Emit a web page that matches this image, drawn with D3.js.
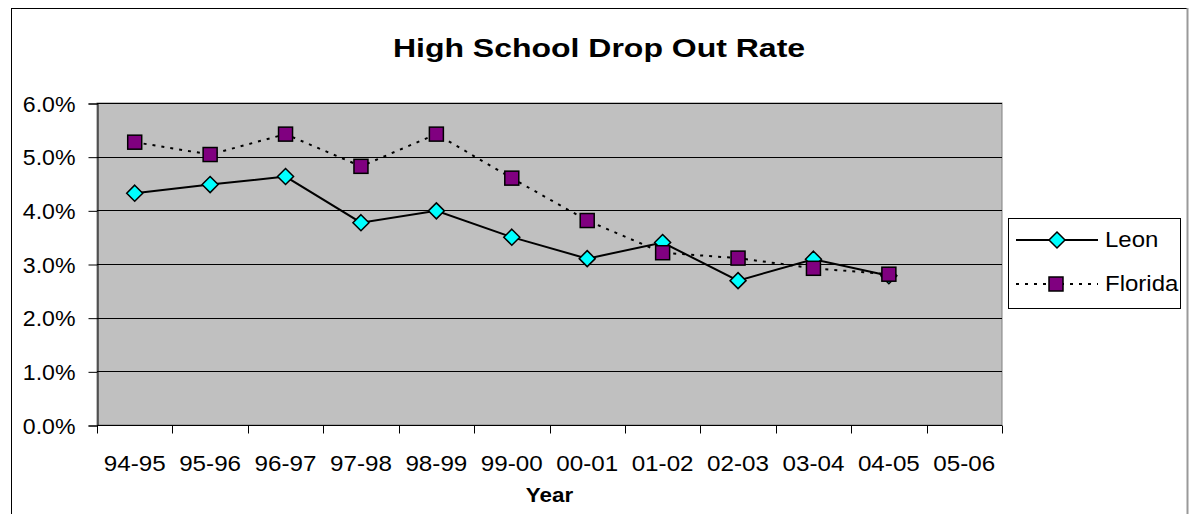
<!DOCTYPE html>
<html>
<head>
<meta charset="utf-8">
<script src="https://cdn.jsdelivr.net/npm/d3@7"></script>
<style>
body { margin: 0; background: #fff; }
svg { display: block; font-family: "Liberation Sans", Arial, sans-serif; }
</style>
</head>
<body>
<svg width="1189" height="514"></svg>
<script>
// school years on the x axis
var years = ['94-95', '95-96', '96-97', '97-98', '98-99', '99-00', '00-01', '01-02', '02-03', '03-04', '04-05', '05-06']
// drop out rate in percent, null where no value
var leon = [4.32, 4.48, 4.63, 3.77, 3.99, 3.50, 3.10, 3.40, 2.69, 3.09, 2.78, null]
var florida = [5.27, 5.04, 5.42, 4.82, 5.42, 4.60, 3.81, 3.21, 3.11, 2.92, 2.81, null]
var yTicks = [0, 1, 2, 3, 4, 5, 6]

var svg = d3.select('svg')

// the excel fonts come out a bit wider than liberation sans
function widen(sel, k) {
    sel.each(function() {
        var w = this.getComputedTextLength()
        d3.select(this).attr('textLength', w * k).attr('lengthAdjust', 'spacingAndGlyphs')
    })
}

// chart border
svg.append('rect')
    .attr('x', 11.5).attr('y', 8.5)
    .attr('width', 1176).attr('height', 520)
    .attr('fill', '#fff')
    .attr('stroke', '#000')
svg.append('line')
    .attr('x1', 1187.5).attr('x2', 1187.5)
    .attr('y1', 8).attr('y2', 514)
    .attr('stroke', '#999').attr('stroke-width', 2)

var pLeft = 97, pRight = 1002, pTop = 103, pBottom = 425

var x = d3.scaleBand().domain(years).range([pLeft, pRight])
var y = d3.scaleLinear().domain([0, 6]).range([pBottom, pTop])

// plot area
svg.append('rect')
    .attr('x', pLeft).attr('y', pTop)
    .attr('width', pRight - pLeft).attr('height', pBottom - pTop)
    .attr('fill', '#c0c0c0')
    .attr('stroke', '#808080')

// gridlines
svg.append('g')
    .selectAll('line')
    .data(yTicks.slice(1))
    .enter()
    .append('line')
    .attr('x1', pLeft).attr('x2', pRight)
    .attr('y1', function(d) { return Math.round(y(d)) + 0.5 })
    .attr('y2', function(d) { return Math.round(y(d)) + 0.5 })
    .attr('stroke', '#000')

// y axis
var yAxis = svg.append('g')
    .attr('transform', 'translate(' + (pLeft + 0.5) + ',0.5)')
    .call(d3.axisLeft(y).tickValues(yTicks).tickSize(9).tickPadding(13)
        .tickFormat(function(d) { return d.toFixed(1) + '%' }))
yAxis.select('.domain').attr('stroke', '#000')
yAxis.selectAll('.tick line').attr('stroke', '#000')
yAxis.selectAll('text')
    .attr('font-size', 22).attr('font-family', '"Liberation Sans", Arial, sans-serif')
    .attr('fill', '#000').attr('dy', '0.35em')
widen(yAxis.selectAll('text'), 1.05)

// x axis, ticks on the band edges
var xAxis = svg.append('g')
    .attr('transform', 'translate(0,' + (pBottom + 0.5) + ')')
xAxis.append('line')
    .attr('x1', pLeft).attr('x2', pRight)
    .attr('stroke', '#000')
xAxis.selectAll('.tk')
    .data(years.concat(['end']))
    .enter()
    .append('line')
    .attr('class', 'tk')
    .attr('x1', function(d, i) { return Math.round(pLeft + i * x.step()) + 0.5 })
    .attr('x2', function(d, i) { return Math.round(pLeft + i * x.step()) + 0.5 })
    .attr('y1', 0).attr('y2', 8)
    .attr('stroke', '#000')
var xLabels = xAxis.selectAll('text')
    .data(years)
    .enter()
    .append('text')
    .attr('x', function(d) { return x(d) + x.bandwidth() / 2 })
    .attr('y', 45)
    .attr('text-anchor', 'middle')
    .attr('font-size', 22)
    .text(function(d) { return d })
widen(xLabels, 1.1)

// titles
var title = svg.append('text')
    .attr('x', 599).attr('y', 57)
    .attr('text-anchor', 'middle')
    .attr('font-size', 26).attr('font-weight', 'bold')
    .text('High School Drop Out Rate')
widen(title, 1.23)
var xTitle = svg.append('text')
    .attr('x', (pLeft + pRight) / 2).attr('y', 502)
    .attr('text-anchor', 'middle')
    .attr('font-size', 20).attr('font-weight', 'bold')
    .text('Year')
widen(xTitle, 1.12)

var cx = function(d, i) { return x(years[i]) + x.bandwidth() / 2 }
var line = d3.line()
    .defined(function(d) { return d != null })
    .x(cx)
    .y(function(d) { return y(d) })

svg.append('path')
    .datum(leon)
    .attr('d', line)
    .attr('fill', 'none').attr('stroke', '#000').attr('stroke-width', 2)
svg.append('path')
    .datum(florida)
    .attr('d', line)
    .attr('fill', 'none').attr('stroke', '#000').attr('stroke-width', 2)
    .attr('stroke-dasharray', '3,6')

function diamond(sel, px, py) {
    sel.append('path')
        .attr('d', 'M' + px + ',' + (py - 8) + 'L' + (px + 8) + ',' + py + 'L' + px + ',' + (py + 8) + 'L' + (px - 8) + ',' + py + 'Z')
        .attr('fill', '#00ffff').attr('stroke', '#000').attr('stroke-width', 1.5)
}
function square(sel, px, py) {
    sel.append('rect')
        .attr('x', px - 7).attr('y', py - 7)
        .attr('width', 14).attr('height', 14)
        .attr('fill', '#800080').attr('stroke', '#000').attr('stroke-width', 1.5)
}

var marks = svg.append('g')
leon.forEach(function(d, i) { if (d != null) diamond(marks, cx(d, i), y(d)) })
florida.forEach(function(d, i) { if (d != null) square(marks, cx(d, i), y(d)) })

// legend
var lg = svg.append('g')
lg.append('rect')
    .attr('x', 1008.5).attr('y', 218.5)
    .attr('width', 172).attr('height', 90)
    .attr('fill', '#fff').attr('stroke', '#000')
lg.append('line')
    .attr('x1', 1016).attr('x2', 1098).attr('y1', 240).attr('y2', 240)
    .attr('stroke', '#000').attr('stroke-width', 2)
diamond(lg, 1057, 240)
lg.append('line')
    .attr('x1', 1016).attr('x2', 1098).attr('y1', 284).attr('y2', 284)
    .attr('stroke', '#000').attr('stroke-width', 2).attr('stroke-dasharray', '3,6')
square(lg, 1056, 284)
var lgText = lg.selectAll('.lt')
    .data(['Leon', 'Florida'])
    .enter()
    .append('text')
    .attr('x', 1105)
    .attr('y', function(d, i) { return 247 + i * 44 })
    .attr('font-size', 22)
    .text(function(d) { return d })
widen(lgText, 1.09)
</script>
</body>
</html>
